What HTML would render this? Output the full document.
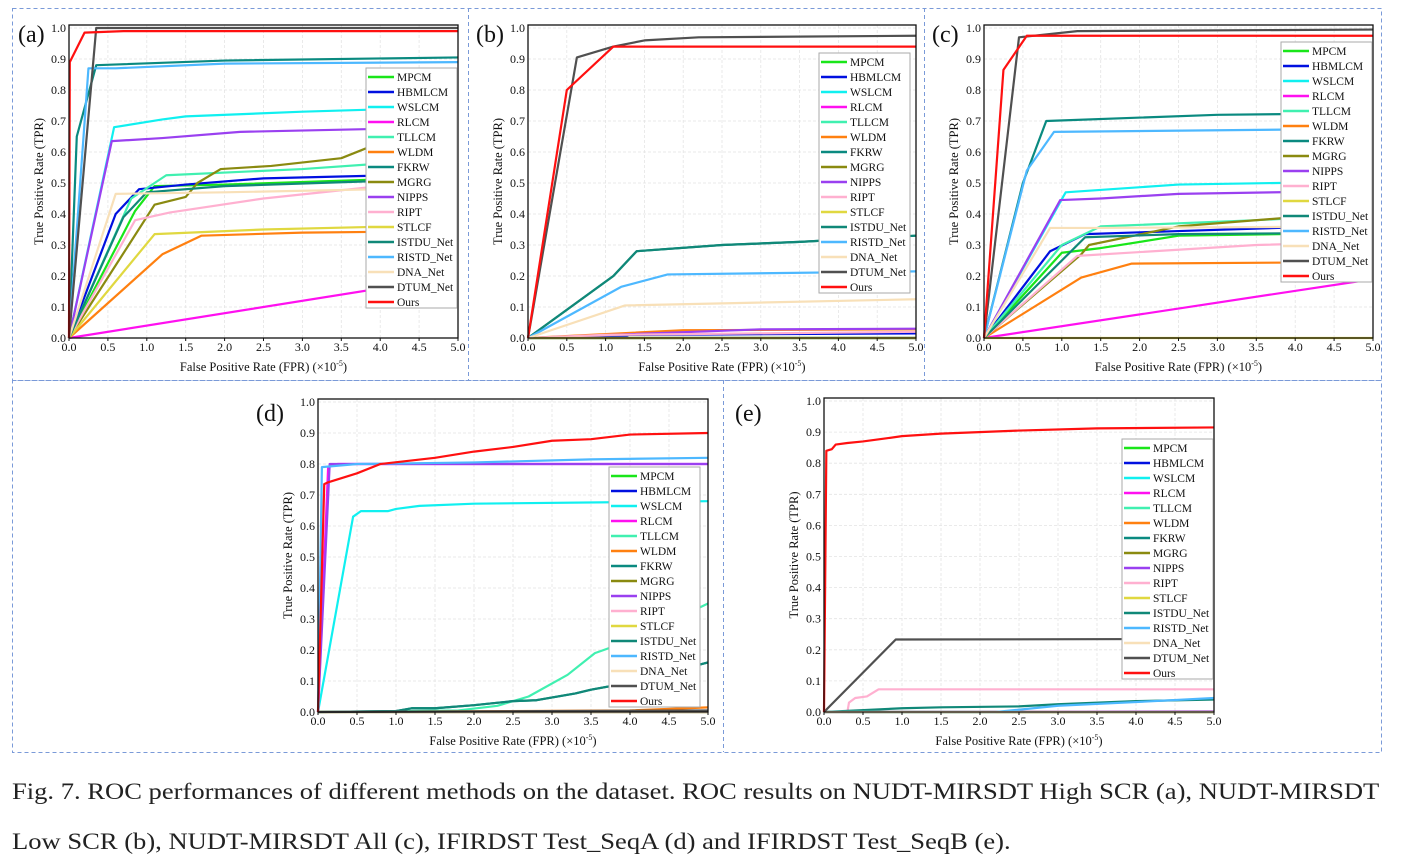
<!DOCTYPE html>
<html><head><meta charset="utf-8"><style>
html,body{margin:0;padding:0;background:#fff;width:1403px;height:864px;overflow:hidden}
svg{display:block;font-family:"Liberation Serif",serif}
.cap{position:absolute;left:12px;font-family:"Liberation Serif",serif;font-size:23px;color:#222;white-space:nowrap;transform-origin:0 0;transform:scaleX(1.155)}
</style></head><body>
<svg id="fig" width="1403" height="864" xmlns="http://www.w3.org/2000/svg">
<g fill="none" stroke="#7a9ad8" stroke-width="1" stroke-dasharray="4,3">
<rect x="12.5" y="8.5" width="1369" height="372"/>
<line x1="468.5" y1="8" x2="468.5" y2="380"/>
<line x1="924.5" y1="8" x2="924.5" y2="380"/>
<rect x="12.5" y="380.5" width="1369" height="372"/>
<line x1="723.5" y1="380" x2="723.5" y2="752"/>
</g>
</svg>
<div class="cap" style="top:779px">Fig. 7. ROC performances of different methods on the dataset. ROC results on NUDT-MIRSDT High SCR (a), NUDT-MIRSDT</div>
<div class="cap" style="top:829px">Low SCR (b), NUDT-MIRSDT All (c), IFIRDST Test_SeqA (d) and IFIRDST Test_SeqB (e).</div>
<script>
const methods=["MPCM","HBMLCM","WSLCM","RLCM","TLLCM","WLDM","FKRW","MGRG","NIPPS","RIPT","STLCF","ISTDU_Net","RISTD_Net","DNA_Net","DTUM_Net","Ours"];
const colors=["#19e619","#0010e0","#10f0f0","#ff10f0","#40f0b0","#ff8010","#0a8a80","#8a8a10","#9a40f0","#ffb0d0","#e0d840","#108878","#4db8ff","#f8e0b8","#505050","#ff1010"];
const xTicks=[0,0.5,1,1.5,2,2.5,3,3.5,4,4.5,5];
const xTickLabels=["0.0","0.5","1.0","1.5","2.0","2.5","3.0","3.5","4.0","4.5","5.0"];
const yTicks=[0,0.1,0.2,0.3,0.4,0.5,0.6,0.7,0.8,0.9,1];
const yTickLabels=["0.0","0.1","0.2","0.3","0.4","0.5","0.6","0.7","0.8","0.9","1.0"];
const Z=[[0,0],[5,0]];
// panel (a)
const a_MPCM=[[0,0],[0.85,0.41],[1.1,0.49],[2,0.495],[5,0.52]];
const a_HBMLCM=[[0,0],[0.6,0.4],[0.9,0.48],[1.5,0.495],[2.5,0.515],[5,0.53]];
const a_WSLCM=[[0,0],[0.58,0.68],[1.2,0.705],[1.5,0.715],[3,0.73],[5,0.745]];
const a_RLCM=[[0,0],[5,0.2]];
const a_TLLCM=[[0,0],[0.8,0.45],[1.25,0.525],[3,0.545],[5,0.58]];
const a_WLDM=[[0,0],[1.2,0.27],[1.7,0.33],[3,0.34],[5,0.345]];
const a_FKRW=[[0,0],[0.1,0.65],[0.35,0.88],[2,0.895],[5,0.905]];
const a_MGRG=[[0,0],[1.1,0.43],[1.5,0.455],[1.65,0.5],[1.95,0.545],[2.6,0.555],[3.5,0.58],[4,0.63],[5,0.66]];
const a_NIPPS=[[0,0],[0.55,0.635],[1.2,0.645],[2.2,0.665],[5,0.68]];
const a_RIPT=[[0,0],[0.85,0.38],[1.3,0.405],[2.5,0.45],[4,0.49],[5,0.51]];
const a_STLCF=[[0,0],[1.1,0.335],[2.5,0.35],[5,0.365]];
const a_ISTDU=[[0,0],[0.7,0.39],[1.0,0.47],[2,0.49],[5,0.515]];
const a_RISTD=[[0,0],[0.25,0.87],[0.6,0.87],[2,0.885],[5,0.89]];
const a_DNA=[[0,0],[0.6,0.465],[2,0.47],[5,0.485]];
const a_DTUM=[[0,0],[0.35,1.0],[5,1.0]];
const a_Ours=[[0,0],[0.01,0.89],[0.2,0.985],[0.7,0.99],[5,0.99]];
// panel (b)
const b_HBMLCM=[[0,0],[1.25,0.005],[1.3,0.01],[5,0.015]];
const b_WLDM=[[0,0],[2,0.025],[5,0.028]];
const b_FKRW=[[0,0],[1.1,0.2],[1.4,0.28],[2.5,0.3],[3.5,0.31],[5,0.33]];
const b_NIPPS=[[0,0],[3,0.028],[5,0.03]];
const b_RIPT=[[0,0],[1,0.01],[5,0.02]];
const b_ISTDU=[[0,0],[1.1,0.2],[1.4,0.28],[2.5,0.3],[3.5,0.31],[5,0.33]];
const b_RISTD=[[0,0],[1.2,0.165],[1.8,0.205],[5,0.215]];
const b_DNA=[[0,0],[1.25,0.105],[5,0.125]];
const b_DTUM=[[0,0],[0.63,0.905],[1.1,0.94],[1.5,0.96],[2.2,0.97],[5,0.975]];
const b_Ours=[[0,0],[0.5,0.8],[1.1,0.94],[5,0.94]];
// panel (c)
const c_MPCM=[[0,0],[1.0,0.275],[1.5,0.29],[2.5,0.33],[5,0.34]];
const c_HBMLCM=[[0,0],[0.85,0.28],[1.3,0.335],[2.5,0.345],[5,0.365]];
const c_WSLCM=[[0,0],[1.05,0.47],[2.5,0.495],[5,0.505]];
const c_RLCM=[[0,0],[5,0.19]];
const c_TLLCM=[[0,0],[1.0,0.3],[1.5,0.36],[3.5,0.38],[5,0.4]];
const c_WLDM=[[0,0],[1.25,0.195],[1.9,0.24],[5,0.245]];
const c_FKRW=[[0,0],[0.5,0.5],[0.8,0.7],[3,0.72],[5,0.725]];
const c_MGRG=[[0,0],[1.25,0.27],[1.35,0.3],[2.5,0.36],[4,0.39],[5,0.42]];
const c_NIPPS=[[0,0],[0.98,0.445],[1.5,0.45],[2.5,0.465],[5,0.475]];
const c_RIPT=[[0,0],[1.2,0.265],[3.5,0.3],[5,0.31]];
const c_ISTDU=[[0,0],[1.3,0.325],[2.5,0.335],[5,0.34]];
const c_RISTD=[[0,0],[0.55,0.54],[0.9,0.665],[5,0.675]];
const c_DNA=[[0,0],[0.85,0.355],[1.5,0.355],[5,0.36]];
const c_DTUM=[[0,0],[0.45,0.97],[1.2,0.99],[5,0.995]];
const c_Ours=[[0,0],[0.25,0.865],[0.55,0.975],[5,0.975]];
// panel (d)
const d_WSLCM=[[0,0],[0.45,0.63],[0.55,0.648],[0.9,0.648],[1.0,0.655],[1.3,0.665],[2,0.672],[5,0.68]];
const d_RLCM=[[0,0],[0.13,0.79],[0.25,0.8],[5,0.8]];
const d_TLLCM=[[0,0],[1.8,0.005],[2.3,0.02],[2.7,0.05],[3.2,0.12],[3.55,0.19],[4,0.23],[5,0.35]];
const d_WLDM=[[0,0],[4,0.005],[5,0.015]];
const d_FKRW=[[0,0],[1.0,0.003],[1.2,0.012],[1.5,0.012],[2,0.022],[2.5,0.035],[2.8,0.038],[3.3,0.06],[3.5,0.072],[4,0.095],[5,0.16]];
const d_NIPPS=[[0,0],[0.15,0.8],[5,0.8]];
const d_ISTDU=[[0,0],[1.0,0.003],[1.2,0.012],[1.5,0.012],[2,0.022],[2.5,0.035],[2.8,0.038],[3.3,0.06],[3.5,0.072],[4,0.095],[5,0.16]];
const d_RISTD=[[0,0],[0.05,0.79],[0.5,0.8],[2,0.805],[3.5,0.815],[5,0.82]];
const d_DTUM=[[0,0],[5,0.005]];
const d_Ours=[[0,0],[0.08,0.735],[0.12,0.74],[0.5,0.77],[0.8,0.8],[1.5,0.82],[2,0.84],[2.5,0.855],[3,0.875],[3.5,0.88],[4,0.895],[5,0.9]];
// panel (e)
const e_NIPPS=[[0,0],[5,0.002]];
const e_RIPT=[[0,0],[0.3,0],[0.32,0.03],[0.4,0.045],[0.55,0.05],[0.7,0.073],[5,0.073]];
const e_ISTDU=[[0,0],[1,0.012],[1.5,0.015],[2.5,0.018],[3,0.025],[4,0.035],[5,0.04]];
const e_RISTD=[[0,0],[2.2,0],[3,0.02],[4,0.032],[5,0.045]];
const e_DTUM=[[0,0],[0.92,0.233],[5,0.235]];
const e_Ours=[[0,0],[0.03,0.84],[0.1,0.845],[0.15,0.86],[0.3,0.865],[0.5,0.87],[0.8,0.88],[1,0.887],[1.5,0.895],[2.5,0.905],[3.5,0.912],[5,0.915]];

const panels=[
 {id:"a",x0:69,x1:458,y0:338,y1:28,lab:[18,42],leg:[366,68],series:[a_MPCM,a_HBMLCM,a_WSLCM,a_RLCM,a_TLLCM,a_WLDM,a_FKRW,a_MGRG,a_NIPPS,a_RIPT,a_STLCF,a_ISTDU,a_RISTD,a_DNA,a_DTUM,a_Ours]},
 {id:"b",x0:528,x1:916,y0:338,y1:28,lab:[476,42],leg:[819,53],series:[Z,b_HBMLCM,Z,Z,Z,b_WLDM,b_FKRW,Z,b_NIPPS,b_RIPT,Z,b_ISTDU,b_RISTD,b_DNA,b_DTUM,b_Ours]},
 {id:"c",x0:984,x1:1373,y0:338,y1:28,lab:[932,42],leg:[1281,42],series:[c_MPCM,c_HBMLCM,c_WSLCM,c_RLCM,c_TLLCM,c_WLDM,c_FKRW,c_MGRG,c_NIPPS,c_RIPT,Z,c_ISTDU,c_RISTD,c_DNA,c_DTUM,c_Ours]},
 {id:"d",x0:318,x1:708,y0:712,y1:402,lab:[256,421],leg:[609,467],series:[Z,Z,d_WSLCM,d_RLCM,d_TLLCM,d_WLDM,d_FKRW,Z,d_NIPPS,Z,Z,d_ISTDU,d_RISTD,Z,d_DTUM,d_Ours]},
 {id:"e",x0:824,x1:1214,y0:712,y1:401,lab:[735,421],leg:[1122,439],series:[Z,Z,Z,Z,Z,Z,Z,Z,e_NIPPS,e_RIPT,Z,e_ISTDU,e_RISTD,Z,e_DTUM,e_Ours]}
];
const NS="http://www.w3.org/2000/svg";
const svg=document.getElementById("fig");
function mk(tag,attrs,parent,text){const e=document.createElementNS(NS,tag);for(const k in attrs)e.setAttribute(k,attrs[k]);if(text!==undefined)e.textContent=text;parent.appendChild(e);return e;}
panels.forEach(p=>{
 const g=mk("g",{},svg);
 
 
 const sx=v=>p.x0+(p.x1-p.x0)*v/5;
 const sy=v=>p.y0+(p.y1-p.y0)*v;
 const top=p.y1-3;
 const grid=mk("g",{stroke:"#e4e4e4","stroke-width":"0.8","stroke-dasharray":"3,2"},g);
 
 
 xTicks.forEach(t=>{mk("line",{x1:sx(t),x2:sx(t),y1:top,y2:p.y0},grid);});
 yTicks.forEach(t=>{mk("line",{x1:p.x0,x2:p.x1,y1:sy(t),y2:sy(t)},grid);});
 const lines=mk("g",{fill:"none","stroke-width":"2.2","stroke-linejoin":"round"},g);
 p.series.forEach((s,i)=>{
  const pl=mk("polyline",{points:s.map(q=>sx(q[0])+","+sy(q[1])).join(" "),stroke:colors[i]},lines);
  
  
 });
 const fr=mk("rect",{x:p.x0,y:top,width:p.x1-p.x0,height:p.y0-top,fill:"none",stroke:"#111","stroke-width":"1.3"},g);
 
 
 const xt=mk("g",{"font-size":"12","text-anchor":"middle",fill:"#111"},g);
 
 
 xTicks.forEach((t,i)=>{mk("text",{x:sx(t),y:p.y0+13},xt,xTickLabels[i]);mk("line",{x1:sx(t),x2:sx(t),y1:p.y0,y2:p.y0+3,stroke:"#111"},xt);});
 const yt=mk("g",{"font-size":"12","text-anchor":"end",fill:"#111"},g);
 
 
 yTicks.forEach((t,i)=>{mk("text",{x:p.x0-3,y:sy(t)+4},yt,yTickLabels[i]);});
 const xtitle=mk("text",{x:(p.x0+p.x1)/2,y:p.y0+33,"font-size":"12.5","text-anchor":"middle",fill:"#111"},g);
 xtitle.innerHTML='False Positive Rate (FPR) (×10<tspan font-size="8" dy="-5">-5</tspan><tspan dy="5">)</tspan>';
 
 
 const cy=(p.y0+top)/2;
 const ytitle=mk("text",{x:0,y:0,"font-size":"12.5","text-anchor":"middle",fill:"#111",transform:"translate("+(p.x0-26)+","+cy+") rotate(-90)"},g,"True Positive Rate (TPR)");
 
 
 const lab=mk("text",{x:p.lab[0],y:p.lab[1],"font-size":"24",fill:"#111"},g,"("+p.id+")");
 
 
 const lg=mk("g",{},g);
 
 
 const lx=p.leg[0],ly=p.leg[1];
 mk("rect",{x:lx,y:ly,width:91,height:240,fill:"#fff",stroke:"#aaa","stroke-width":"1"},lg);
 methods.forEach((m,i)=>{
  const ey=ly+9+i*15;
  const en=mk("g",{},lg);
  
  
  mk("line",{x1:lx+2,x2:lx+28,y1:ey,y2:ey,stroke:colors[i],"stroke-width":"2.4"},en);
  mk("text",{x:lx+31,y:ey+4,"font-size":"11.5",fill:"#111"},en,m);
 });
});
</script>
</body></html>
